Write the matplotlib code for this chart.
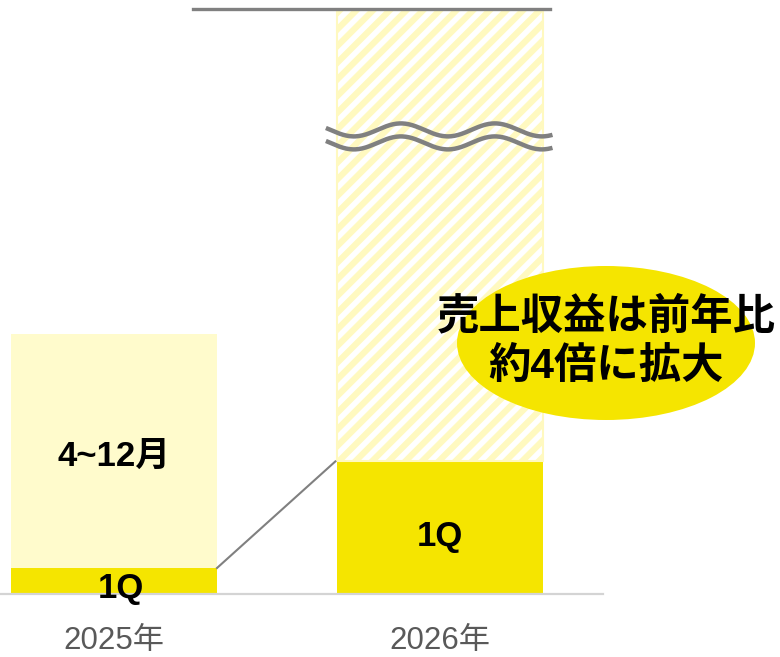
import matplotlib
matplotlib.use('Agg')
import matplotlib.pyplot as plt
from matplotlib.patches import Ellipse
import numpy as np

# 売上収益 (相対値, 2025年1Q = 1)
years = ['2025年', '2026年']
q1 = [1.0, 5.1]
rest = [9.0, 17.4]          # 2025: 4~12月, 2026: 見通し (省略表示)
rest_labels = ['4~12月', '']
callout = '売上収益は前年比\n約4倍に拡大'

yellow = '#f5e500'
light = '#fffbcc'
hatch_col = '#fff9c0'
grey = '#808080'

plt.rcParams['font.family'] = ['Liberation Sans', 'Noto Sans CJK JP']
plt.rcParams['hatch.linewidth'] = 4.5
plt.rcParams['hatch.color'] = hatch_col

W, H = 780, 657
fig = plt.figure(figsize=(W / 100, H / 100), dpi=100)
base_px = 594
ax = fig.add_axes([0, 1 - base_px / H, 1, base_px / H])
ax.set_xlim(-114 / 326, (W - 114) / 326)
ax.set_ylim(0, base_px / 26)
ax.axis('off')

x = np.arange(len(years))
bw = 206 / 326

ax.bar(x[0], q1[0], bw, color=yellow, lw=0)
ax.bar(x[0], rest[0], bw, bottom=q1[0], color=light, lw=0)
ax.bar(x[1], q1[1], bw, color=yellow, lw=0)
ax.bar(x[1], rest[1], bw, bottom=q1[1], facecolor='white', edgecolor=hatch_col,
       hatch='//', lw=1.5)

# ベースライン
ax.plot([-0.36, 1.5], [0, 0], color='#d4d4d4', lw=1.6, clip_on=False)

# 上端の線
top = q1[1] + rest[1]
ax.plot([x[0] + 0.242, x[1] + 0.337], [top, top], color=grey, lw=2.4)

# 省略記号(波線)
wx = np.linspace(x[1] - 0.35, x[1] + 0.345, 200)
for off in [17.85, 17.35]:
    wy = off - 0.25 * np.sin((wx - (x[1] - 0.35)) * 2 * np.pi / (94 / 326) - 0.3)
    ax.plot(wx, wy, color=grey, lw=3.2, solid_capstyle='butt')

# 1Q どうしをつなぐ線
ax.plot([x[0] + bw / 2, x[1] - bw / 2 - 0.005], [q1[0], q1[1]], color=grey, lw=1.5)

# ラベル
ax.text(x[0] + 0.02, 0.2, '1Q', ha='center', va='center', fontsize=25,
        fontweight='bold')
ax.text(x[1], q1[1] / 2 - 0.35, '1Q', ha='center', va='center', fontsize=25,
        fontweight='bold')
ax.text(x[0], q1[0] + 4.3, rest_labels[0], ha='center', va='center',
        fontsize=25, fontweight='bold')

for xi, lab in zip(x, years):
    ax.text(xi, -1.8, lab, ha='center', va='center', fontsize=22.5,
            color='#595959', clip_on=False)

# 吹き出し
ex = (606 - 114) / 326
ey = (base_px - 343) / 26
ax.add_patch(Ellipse((ex, ey), 298 / 326, 154 / 26,
                     color=yellow, lw=0, zorder=3))
ax.text(ex, ey + 0.05, callout, ha='center', va='center', fontsize=30.5,
        fontweight='bold', linespacing=1.32, zorder=4)

fig.savefig('out.png', dpi=100)
